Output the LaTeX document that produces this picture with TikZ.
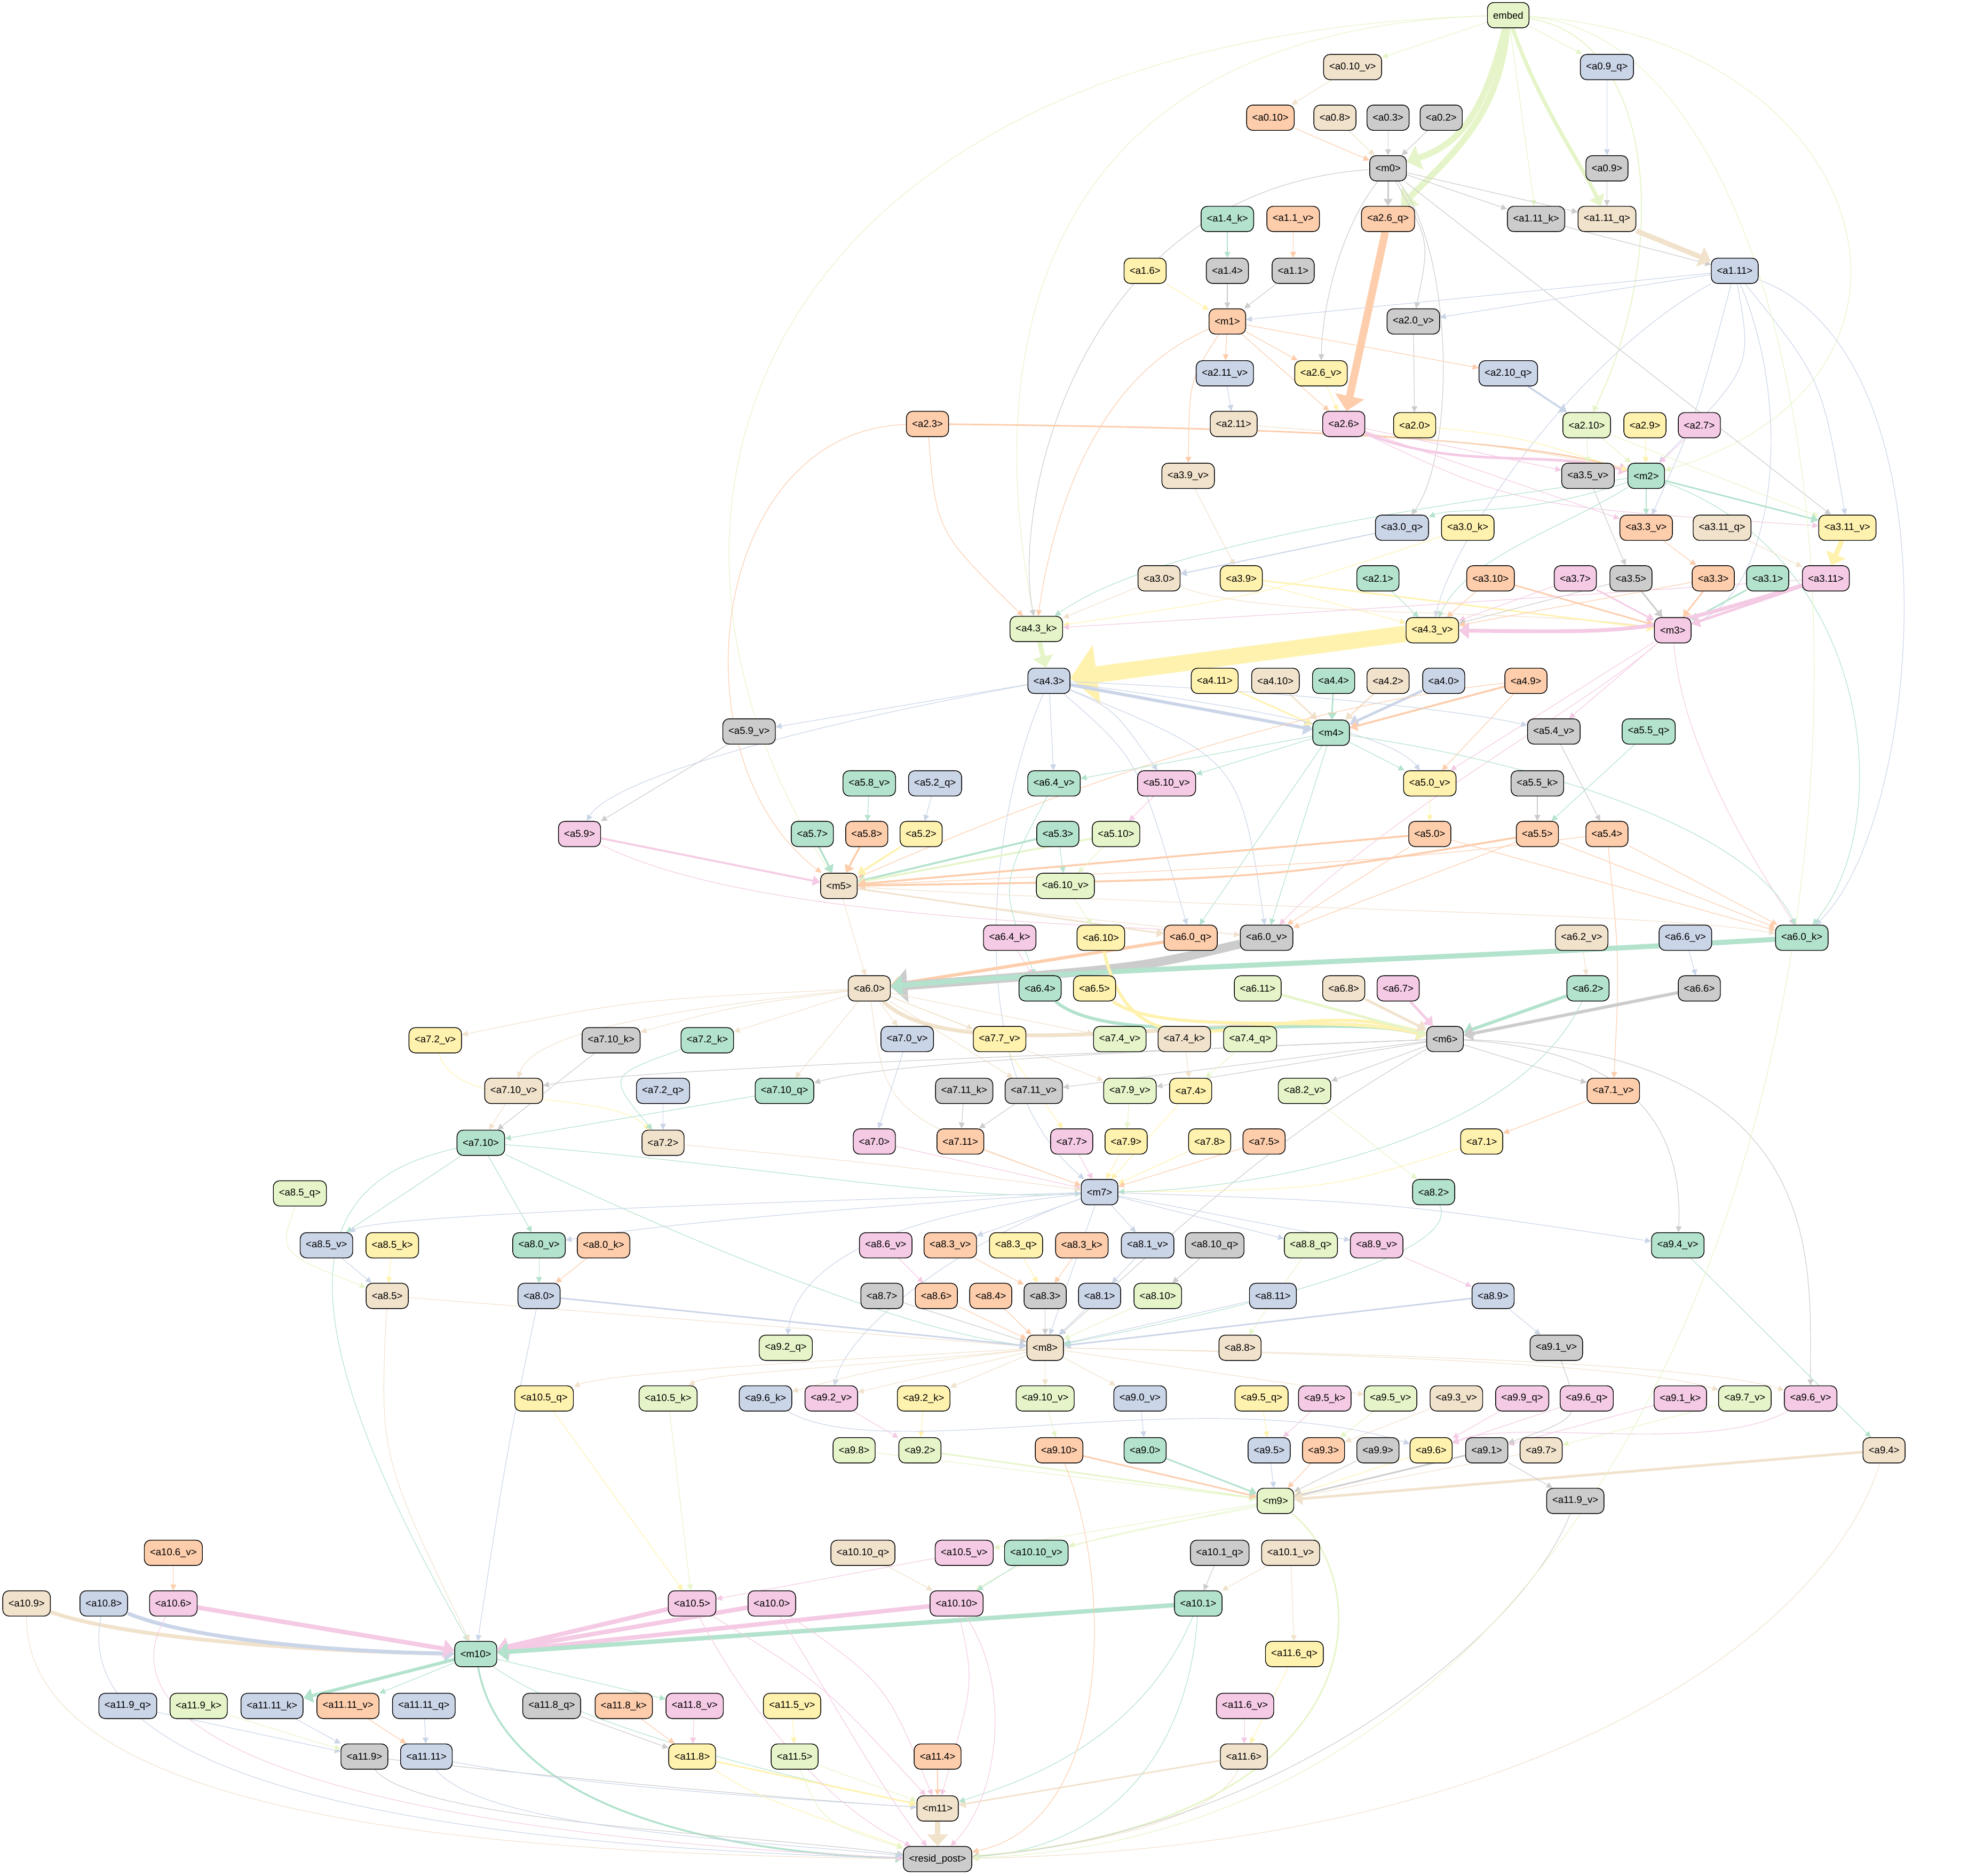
\documentclass[tikz,border=0pt]{standalone}
\usepackage{fontspec}
\setmainfont{Liberation Sans}
\usetikzlibrary{arrows.meta}
\definecolor{cG}{HTML}{B3E2CD}
\definecolor{cO}{HTML}{FDCDAC}
\definecolor{cB}{HTML}{CBD5E8}
\definecolor{cP}{HTML}{F4CAE4}
\definecolor{cL}{HTML}{E6F5C9}
\definecolor{cY}{HTML}{FFF2AE}
\definecolor{cE}{HTML}{F1E2CC}
\definecolor{cX}{HTML}{CCCCCC}
\pgfdeclarelayer{bg}
\pgfsetlayers{bg,main}
\tikzset{
  box/.style={draw=black,line width=0.6pt,rounded corners=5pt,minimum height=20pt,
    inner xsep=4.5pt,inner ysep=0pt,font=\fontsize{7.8}{9}\selectfont},
  nG/.style={box,fill=cG}, nO/.style={box,fill=cO}, nB/.style={box,fill=cB},
  nP/.style={box,fill=cP}, nL/.style={box,fill=cL}, nY/.style={box,fill=cY},
  nE/.style={box,fill=cE}, nX/.style={box,fill=cX},
  link/.style={line width=#1,-{Triangle[length=4pt 1.3,width=3pt 3.3]}},
  link/.default=0.5pt
}
\begin{document}
\begin{tikzpicture}[x=1pt,y=-1pt]
  \useasboundingbox (0,0) rectangle (1568,1482);
  % layer 0
  \node[nL] (embed) at (1192,12) {embed};
  \node[nE] (a0-10v) at (1069,53) {<a0.10\_v>};
  \node[nB] (a0-9q) at (1270,53) {<a0.9\_q>};
  \node[nO] (a0-10) at (1004,93) {<a0.10>};
  \node[nE] (a0-8) at (1055,93) {<a0.8>};
  \node[nX] (a0-3) at (1097,93) {<a0.3>};
  \node[nX] (a0-2) at (1139,93) {<a0.2>};
  \node[nX] (m0) at (1097,133) {<m0>};
  \node[nX] (a0-9) at (1270,133) {<a0.9>};
  % layer 1
  \node[nG] (a1-4k) at (970,173) {<a1.4\_k>};
  \node[nO] (a1-1v) at (1022,173) {<a1.1\_v>};
  \node[nO] (a2-6q) at (1097,173) {<a2.6\_q>};
  \node[nX] (a1-11k) at (1214,173) {<a1.11\_k>};
  \node[nE] (a1-11q) at (1270,173) {<a1.11\_q>};
  \node[nY] (a1-6) at (905,214) {<a1.6>};
  \node[nX] (a1-4) at (970,214) {<a1.4>};
  \node[nX] (a1-1) at (1022,214) {<a1.1>};
  \node[nB] (a1-11) at (1371,214) {<a1.11>};
  \node[nO] (m1) at (970,254) {<m1>};
  \node[nX] (a2-0v) at (1117,254) {<a2.0\_v>};
  % layer 2
  \node[nB] (a2-11v) at (968,295) {<a2.11\_v>};
  \node[nY] (a2-6v) at (1044,295) {<a2.6\_v>};
  \node[nB] (a2-10q) at (1192,295) {<a2.10\_q>};
  \node[nO] (a2-3) at (733,335) {<a2.3>};
  \node[nE] (a2-11) at (975,335) {<a2.11>};
  \node[nP] (a2-6) at (1062,335) {<a2.6>};
  \node[nY] (a2-0) at (1118,336) {<a2.0>};
  \node[nL] (a2-10) at (1254,336) {<a2.10>};
  \node[nY] (a2-9) at (1300,336) {<a2.9>};
  \node[nP] (a2-7) at (1343,336) {<a2.7>};
  \node[nE] (a3-9v) at (939,376) {<a3.9\_v>};
  \node[nX] (a3-5v) at (1255,376) {<a3.5\_v>};
  \node[nG] (m2) at (1301,376) {<m2>};
  % layer 3
  \node[nB] (a3-0q) at (1108,417) {<a3.0\_q>};
  \node[nY] (a3-0k) at (1160,417) {<a3.0\_k>};
  \node[nO] (a3-3v) at (1301,417) {<a3.3\_v>};
  \node[nE] (a3-11q) at (1361,417) {<a3.11\_q>};
  \node[nY] (a3-11v) at (1460,417) {<a3.11\_v>};
  \node[nE] (a3-0) at (916,457) {<a3.0>};
  \node[nY] (a3-9) at (981,457) {<a3.9>};
  \node[nG] (a2-1) at (1089,457) {<a2.1>};
  \node[nO] (a3-10) at (1178,457) {<a3.10>};
  \node[nP] (a3-7) at (1245,457) {<a3.7>};
  \node[nX] (a3-5) at (1289,457) {<a3.5>};
  \node[nO] (a3-3) at (1354,457) {<a3.3>};
  \node[nG] (a3-1) at (1397,457) {<a3.1>};
  \node[nP] (a3-11) at (1443,457) {<a3.11>};
  \node[nL] (a4-3k) at (819,497) {<a4.3\_k>};
  \node[nY] (a4-3v) at (1132,498) {<a4.3\_v>};
  \node[nP] (m3) at (1322,498) {<m3>};
  % layer 4
  \node[nB] (a4-3) at (829,538) {<a4.3>};
  \node[nY] (a4-11) at (960,538) {<a4.11>};
  \node[nE] (a4-10) at (1008,538) {<a4.10>};
  \node[nG] (a4-4) at (1054,538) {<a4.4>};
  \node[nE] (a4-2) at (1097,538) {<a4.2>};
  \node[nB] (a4-0) at (1141,538) {<a4.0>};
  \node[nO] (a4-9) at (1206,538) {<a4.9>};
  \node[nX] (a5-9v) at (592,578) {<a5.9\_v>};
  \node[nG] (m4) at (1052,579) {<m4>};
  \node[nX] (a5-4v) at (1228,578) {<a5.4\_v>};
  \node[nG] (a5-5q) at (1303,578) {<a5.5\_q>};
  % layer 5
  \node[nG] (a5-8v) at (687,619) {<a5.8\_v>};
  \node[nB] (a5-2q) at (739,619) {<a5.2\_q>};
  \node[nG] (a6-4v) at (833,619) {<a6.4\_v>};
  \node[nP] (a5-10v) at (922,619) {<a5.10\_v>};
  \node[nY] (a5-0v) at (1130,619) {<a5.0\_v>};
  \node[nX] (a5-5k) at (1215,619) {<a5.5\_k>};
  \node[nP] (a5-9) at (458,659) {<a5.9>};
  \node[nG] (a5-7) at (642,659) {<a5.7>};
  \node[nO] (a5-8) at (685,659) {<a5.8>};
  \node[nY] (a5-2) at (728,659) {<a5.2>};
  \node[nG] (a5-3) at (836,659) {<a5.3>};
  \node[nL] (a5-10) at (882,659) {<a5.10>};
  \node[nO] (a5-0) at (1130,659) {<a5.0>};
  \node[nO] (a5-5) at (1215,659) {<a5.5>};
  \node[nO] (a5-4) at (1270,659) {<a5.4>};
  \node[nE] (m5) at (663,700) {<m5>};
  \node[nL] (a6-10v) at (842,700) {<a6.10\_v>};
  % layer 6
  \node[nP] (a6-4k) at (798,741) {<a6.4\_k>};
  \node[nY] (a6-10) at (870,741) {<a6.10>};
  \node[nO] (a6-0q) at (941,741) {<a6.0\_q>};
  \node[nX] (a6-0v) at (1001,741) {<a6.0\_v>};
  \node[nE] (a6-2v) at (1250,741) {<a6.2\_v>};
  \node[nB] (a6-6v) at (1332,741) {<a6.6\_v>};
  \node[nG] (a6-0k) at (1424,741) {<a6.0\_k>};
  \node[nE] (a6-0) at (687,781) {<a6.0>};
  \node[nG] (a6-4) at (822,781) {<a6.4>};
  \node[nY] (a6-5) at (865,781) {<a6.5>};
  \node[nL] (a6-11) at (994,781) {<a6.11>};
  \node[nE] (a6-8) at (1062,781) {<a6.8>};
  \node[nP] (a6-7) at (1105,781) {<a6.7>};
  \node[nG] (a6-2) at (1255,781) {<a6.2>};
  \node[nX] (a6-6) at (1343,781) {<a6.6>};
  \node[nY] (a7-2v) at (344,822) {<a7.2\_v>};
  \node[nX] (a7-10k) at (483,822) {<a7.10\_k>};
  \node[nG] (a7-2k) at (559,822) {<a7.2\_k>};
  \node[nB] (a7-0v) at (717,821) {<a7.0\_v>};
  \node[nY] (a7-7v) at (790,821) {<a7.7\_v>};
  \node[nL] (a7-4v) at (885,821) {<a7.4\_v>};
  \node[nE] (a7-4k) at (936,821) {<a7.4\_k>};
  \node[nL] (a7-4q) at (988,821) {<a7.4\_q>};
  \node[nX] (m6) at (1142,821) {<m6>};
  % layer 7
  \node[nE] (a7-10v) at (406,862) {<a7.10\_v>};
  \node[nB] (a7-2q) at (524,862) {<a7.2\_q>};
  \node[nG] (a7-10q) at (620,862) {<a7.10\_q>};
  \node[nX] (a7-11k) at (762,862) {<a7.11\_k>};
  \node[nX] (a7-11v) at (817,862) {<a7.11\_v>};
  \node[nL] (a7-9v) at (893,862) {<a7.9\_v>};
  \node[nY] (a7-4) at (941,862) {<a7.4>};
  \node[nL] (a8-2v) at (1031,862) {<a8.2\_v>};
  \node[nO] (a7-1v) at (1275,862) {<a7.1\_v>};
  \node[nG] (a7-10) at (380,903) {<a7.10>};
  \node[nE] (a7-2) at (524,903) {<a7.2>};
  \node[nP] (a7-0) at (691,902) {<a7.0>};
  \node[nO] (a7-11) at (759,902) {<a7.11>};
  \node[nP] (a7-7) at (847,902) {<a7.7>};
  \node[nY] (a7-9) at (890,902) {<a7.9>};
  \node[nY] (a7-8) at (956,902) {<a7.8>};
  \node[nO] (a7-5) at (999,902) {<a7.5>};
  \node[nY] (a7-1) at (1171,902) {<a7.1>};
  \node[nL] (a8-5q) at (237,943) {<a8.5\_q>};
  \node[nB] (m7) at (869,942) {<m7>};
  \node[nG] (a8-2) at (1133,942) {<a8.2>};
  % layer 8
  \node[nB] (a8-5v) at (258,984) {<a8.5\_v>};
  \node[nY] (a8-5k) at (310,984) {<a8.5\_k>};
  \node[nG] (a8-0v) at (426,984) {<a8.0\_v>};
  \node[nO] (a8-0k) at (477,984) {<a8.0\_k>};
  \node[nP] (a8-6v) at (700,984) {<a8.6\_v>};
  \node[nO] (a8-3v) at (751,984) {<a8.3\_v>};
  \node[nY] (a8-3q) at (803,984) {<a8.3\_q>};
  \node[nO] (a8-3k) at (855,984) {<a8.3\_k>};
  \node[nB] (a8-1v) at (907,984) {<a8.1\_v>};
  \node[nX] (a8-10q) at (960,984) {<a8.10\_q>};
  \node[nL] (a8-8q) at (1036,984) {<a8.8\_q>};
  \node[nP] (a8-9v) at (1088,984) {<a8.9\_v>};
  \node[nG] (a9-4v) at (1326,984) {<a9.4\_v>};
  \node[nE] (a8-5) at (306,1024) {<a8.5>};
  \node[nB] (a8-0) at (426,1024) {<a8.0>};
  \node[nX] (a8-7) at (697,1024) {<a8.7>};
  \node[nO] (a8-6) at (740,1024) {<a8.6>};
  \node[nO] (a8-4) at (783,1024) {<a8.4>};
  \node[nX] (a8-3) at (826,1024) {<a8.3>};
  \node[nB] (a8-1) at (869,1024) {<a8.1>};
  \node[nL] (a8-10) at (915,1024) {<a8.10>};
  \node[nB] (a8-11) at (1006,1024) {<a8.11>};
  \node[nB] (a8-9) at (1180,1024) {<a8.9>};
  \node[nL] (a9-2q) at (621,1065) {<a9.2\_q>};
  \node[nE] (m8) at (826,1065) {<m8>};
  \node[nE] (a8-8) at (980,1065) {<a8.8>};
  \node[nX] (a9-1v) at (1230,1065) {<a9.1\_v>};
  % layer 9
  \node[nY] (a10-5q) at (430,1105) {<a10.5\_q>};
  \node[nL] (a10-5k) at (528,1105) {<a10.5\_k>};
  \node[nB] (a9-6k) at (605,1105) {<a9.6\_k>};
  \node[nP] (a9-2v) at (657,1105) {<a9.2\_v>};
  \node[nY] (a9-2k) at (730,1105) {<a9.2\_k>};
  \node[nL] (a9-10v) at (826,1105) {<a9.10\_v>};
  \node[nB] (a9-0v) at (901,1105) {<a9.0\_v>};
  \node[nY] (a9-5q) at (997,1105) {<a9.5\_q>};
  \node[nP] (a9-5k) at (1047,1105) {<a9.5\_k>};
  \node[nL] (a9-5v) at (1099,1105) {<a9.5\_v>};
  \node[nE] (a9-3v) at (1151,1105) {<a9.3\_v>};
  \node[nP] (a9-9q) at (1203,1105) {<a9.9\_q>};
  \node[nP] (a9-6q) at (1254,1105) {<a9.6\_q>};
  \node[nP] (a9-1k) at (1328,1105) {<a9.1\_k>};
  \node[nL] (a9-7v) at (1379,1105) {<a9.7\_v>};
  \node[nP] (a9-6v) at (1431,1105) {<a9.6\_v>};
  \node[nL] (a9-8) at (675,1146) {<a9.8>};
  \node[nL] (a9-2) at (727,1146) {<a9.2>};
  \node[nO] (a9-10) at (837,1146) {<a9.10>};
  \node[nG] (a9-0) at (905,1146) {<a9.0>};
  \node[nB] (a9-5) at (1003,1146) {<a9.5>};
  \node[nO] (a9-3) at (1046,1146) {<a9.3>};
  \node[nX] (a9-9) at (1089,1146) {<a9.9>};
  \node[nY] (a9-6) at (1131,1146) {<a9.6>};
  \node[nX] (a9-1) at (1175,1146) {<a9.1>};
  \node[nE] (a9-7) at (1218,1146) {<a9.7>};
  \node[nE] (a9-4) at (1489,1146) {<a9.4>};
  \node[nL] (m9) at (1008,1186) {<m9>};
  \node[nX] (a11-9v) at (1245,1186) {<a11.9\_v>};
  % layer 10
  \node[nO] (a10-6v) at (137,1227) {<a10.6\_v>};
  \node[nE] (a10-10q) at (682,1227) {<a10.10\_q>};
  \node[nP] (a10-5v) at (762,1227) {<a10.5\_v>};
  \node[nG] (a10-10v) at (819,1227) {<a10.10\_v>};
  \node[nX] (a10-1q) at (964,1227) {<a10.1\_q>};
  \node[nE] (a10-1v) at (1020,1227) {<a10.1\_v>};
  \node[nE] (a10-9) at (21,1267) {<a10.9>};
  \node[nB] (a10-8) at (82,1267) {<a10.8>};
  \node[nP] (a10-6) at (137,1267) {<a10.6>};
  \node[nP] (a10-5) at (547,1267) {<a10.5>};
  \node[nP] (a10-0) at (610,1267) {<a10.0>};
  \node[nP] (a10-10) at (756,1267) {<a10.10>};
  \node[nG] (a10-1) at (947,1267) {<a10.1>};
  \node[nG] (m10) at (376,1307) {<m10>};
  \node[nY] (a11-6q) at (1023,1307) {<a11.6\_q>};
  % layer 11
  \node[nB] (a11-9q) at (101,1348) {<a11.9\_q>};
  \node[nL] (a11-9k) at (157,1348) {<a11.9\_k>};
  \node[nB] (a11-11k) at (215,1348) {<a11.11\_k>};
  \node[nO] (a11-11v) at (275,1348) {<a11.11\_v>};
  \node[nB] (a11-11q) at (335,1348) {<a11.11\_q>};
  \node[nX] (a11-8q) at (436,1348) {<a11.8\_q>};
  \node[nO] (a11-8k) at (493,1348) {<a11.8\_k>};
  \node[nP] (a11-8v) at (549,1348) {<a11.8\_v>};
  \node[nY] (a11-5v) at (626,1348) {<a11.5\_v>};
  \node[nP] (a11-6v) at (984,1348) {<a11.6\_v>};
  \node[nX] (a11-9) at (288,1388) {<a11.9>};
  \node[nB] (a11-11) at (337,1388) {<a11.11>};
  \node[nY] (a11-8) at (547,1388) {<a11.8>};
  \node[nL] (a11-5) at (628,1388) {<a11.5>};
  \node[nO] (a11-4) at (741,1388) {<a11.4>};
  \node[nE] (a11-6) at (983,1388) {<a11.6>};
  \node[nE] (m11) at (741,1429) {<m11>};
  \node[nX] (resid) at (741,1469) {<resid\_post>};

  \begin{pgfonlayer}{bg}
  % embed and layer 0
  \draw[link,cL] (embed) -- (a0-10v);
  \draw[link,cL] (embed) -- (a0-9q);
  \draw[link,cL] (embed) -- (a1-11k);
  \draw[link=5pt,cL] (embed) .. controls (1172,95) and (1150,115) .. (m0);
  \draw[link=5pt,cL] (embed) .. controls (1185,90) and (1150,120) .. (a2-6q);
  \draw[link=3pt,cL] (embed) .. controls (1215,80) and (1250,130) .. (a1-11q);
  \draw[link=0.8pt,cL] (embed) .. controls (1310,30) and (1320,200) .. (a2-10);
  \draw[link,cL] (embed) .. controls (1480,30) and (1560,300) .. (m2);
  \draw[link,cL] (embed) .. controls (800,25) and (780,300) .. (a4-3k);
  \draw[link,cL] (embed) .. controls (600,30) and (470,400) .. (m5);
  \draw[link,cE] (a0-10v) -- (a0-10);
  \draw[link,cO] (a0-10) -- (m0);
  \draw[link,cE] (a0-8) -- (m0);
  \draw[link,cX] (a0-3) -- (m0);
  \draw[link,cX] (a0-2) -- (m0);
  \draw[link,cB] (a0-9q) -- (a0-9);
  \draw[link,cX] (a0-9) -- (a1-11q);
  \draw[link=1.2pt,cX] (m0) -- (a2-6q);
  \draw[link,cX] (m0) -- (a1-11k);
  \draw[link,cX] (m0) -- (a1-11q);
  \draw[link,cX] (a1-11k) -- (a1-11);
  \draw[link,cX] (m0) .. controls (1130,190) .. (a2-0v);
  \draw[link,cX] (m0) .. controls (1060,180) and (1045,240) .. (a2-6v);
  \draw[link,cX] (m0) .. controls (1150,200) and (1150,360) .. (a3-0q);
  \draw[link,cX] (m0) -- (a3-11v);
  \draw[link,cX] (m0) .. controls (850,150) and (800,400) .. (a4-3k);
  % layer 1
  \draw[link,cG] (a1-4k) -- (a1-4);
  \draw[link,cO] (a1-1v) -- (a1-1);
  \draw[link,cX] (a1-4) -- (m1);
  \draw[link,cX] (a1-1) -- (m1);
  \draw[link,cY] (a1-6) -- (m1);
  \draw[link,cB] (a1-11) -- (m1);
  \draw[link,cB] (a1-11) -- (a2-0v);
  \draw[link=4pt,cE] (a1-11q) -- (a1-11);
  \draw[link,cB] (a1-11) .. controls (1385,290) .. (m2);
  \draw[link,cB] (a1-11) .. controls (1440,300) .. (a3-11v);
  \draw[link,cB] (a1-11) .. controls (1340,330) .. (a3-3v);
  \draw[link,cB] (a1-11) .. controls (1250,280) and (1150,420) .. (a4-3v);
  \draw[link,cB] (a1-11) .. controls (1420,330) and (1400,470) .. (m3);
  \draw[link,cB] (a1-11) .. controls (1550,280) and (1520,650) .. (a6-0k);
  \draw[link,cO] (m1) -- (a2-11v);
  \draw[link,cO] (m1) -- (a2-6v);
  \draw[link,cO] (m1) -- (a2-10q);
  \draw[link,cO] (m1) -- (a2-6);
  \draw[link,cO] (m1) .. controls (940,300) .. (a3-9v);
  \draw[link,cO] (m1) .. controls (860,300) and (830,420) .. (a4-3k);
  % layer 2
  \draw[link,cB] (a2-11v) -- (a2-11);
  \draw[link=6pt,cO] (a2-6q) -- (a2-6);
  \draw[link,cY] (a2-6v) -- (a2-6);
  \draw[link,cX] (a2-0v) -- (a2-0);
  \draw[link=1.5pt,cB] (a2-10q) -- (a2-10);
  \draw[link=1.2pt,cO] (a2-3) .. controls (1000,338) and (1200,345) .. (m2);
  \draw[link,cE] (a2-11) .. controls (1100,345) and (1200,350) .. (m2);
  \draw[link=2pt,cP] (a2-6) .. controls (1150,372) and (1220,355) .. (m2);
  \draw[link,cY] (a2-0) .. controls (1200,345) .. (m2);
  \draw[link,cL] (a2-10) -- (m2);
  \draw[link,cY] (a2-9) -- (m2);
  \draw[link,cP] (a2-7) -- (m2);
  \draw[link,cL] (a2-10) -- (a3-5v);
  \draw[link,cL] (a2-10) -- (a3-11v);
  \draw[link,cP] (a2-6) -- (a3-5v);
  \draw[link,cP] (a2-6) .. controls (1200,400) .. (a3-11v);
  \draw[link,cP] (a2-6) -- (a3-3v);
  \draw[link,cO] (a2-3) .. controls (560,340) and (530,600) .. (m5);
  \draw[link,cO] (a2-3) .. controls (740,420) .. (a4-3k);
  \draw[link,cE] (a3-9v) -- (a3-9);
  \draw[link,cG] (m2) -- (a3-3v);
  \draw[link=1.2pt,cG] (m2) -- (a3-11v);
  \draw[link,cG] (m2) .. controls (1200,410) and (1150,400) .. (a3-0q);
  \draw[link,cG] (m2) .. controls (1230,420) and (1160,440) .. (a4-3v);
  \draw[link,cG] (m2) .. controls (1050,410) and (900,440) .. (a4-3k);
  \draw[link,cG] (m2) .. controls (1480,440) and (1500,650) .. (a6-0k);
  % layer 3
  \draw[link,cX] (a3-5v) -- (a3-5);
  \draw[link,cO] (a3-3v) -- (a3-3);
  \draw[link,cE] (a3-11q) -- (a3-11);
  \draw[link=4pt,cY] (a3-11v) -- (a3-11);
  \draw[link=0.8pt,cB] (a3-0q) -- (a3-0);
  \draw[link,cY] (a3-0k) .. controls (1000,470) .. (a4-3k);
  \draw[link,cE] (a3-0) .. controls (1000,490) and (1200,480) .. (m3);
  \draw[link,cE] (a3-0) -- (a4-3k);
  \draw[link=1.2pt,cY] (a3-9) .. controls (1100,470) and (1250,490) .. (m3);
  \draw[link,cY] (a3-9) -- (a4-3v);
  \draw[link,cG] (a2-1) -- (a4-3v);
  \draw[link,cO] (a3-10) -- (a4-3v);
  \draw[link=1.2pt,cO] (a3-10) -- (m3);
  \draw[link,cP] (a3-7) -- (a4-3v);
  \draw[link=1.2pt,cP] (a3-7) -- (m3);
  \draw[link,cX] (a3-5) -- (a4-3v);
  \draw[link=1.2pt,cX] (a3-5) -- (m3);
  \draw[link,cO] (a3-3) -- (a4-3v);
  \draw[link=1.2pt,cO] (a3-3) -- (m3);
  \draw[link=1.2pt,cG] (a3-1) -- (m3);
  \draw[link=3pt,cP] (a3-11) .. controls (1300,500) .. (a4-3v);
  \draw[link=2pt,cP] (a3-11) -- (m3);
  \draw[link,cP] (a3-11) .. controls (1100,480) .. (a4-3k);
  % layer 4
  \draw[link=13pt,cY] (a4-3v) -- (a4-3);
  \draw[link=4pt,cL] (a4-3k) -- (a4-3);
  \draw[link=2.5pt,cB] (a4-3) -- (m4);
  \draw[link=1.2pt,cY] (a4-11) -- (m4);
  \draw[link=1.2pt,cE] (a4-10) -- (m4);
  \draw[link=1.2pt,cG] (a4-4) -- (m4);
  \draw[link=1.2pt,cE] (a4-2) -- (m4);
  \draw[link=2pt,cB] (a4-0) -- (m4);
  \draw[link=1.5pt,cO] (a4-9) -- (m4);
  \draw[link,cO] (a4-9) -- (a5-0v);
  \draw[link,cO] (a4-9) .. controls (1000,560) and (800,640) .. (m5);
  \draw[link,cP] (m3) -- (a5-4v);
  \draw[link,cP] (m3) -- (a5-0v);
  \draw[link,cP] (m3) .. controls (1250,560) and (1100,640) .. (a6-0v);
  \draw[link,cP] (m3) .. controls (1330,600) and (1400,700) .. (a6-0k);
  \draw[link,cB] (a4-3) -- (a5-9v);
  \draw[link,cB] (a4-3) -- (a6-4v);
  \draw[link,cB] (a4-3) .. controls (880,560) .. (a5-10v);
  \draw[link,cB] (a4-3) .. controls (1000,560) and (1100,580) .. (a5-0v);
  \draw[link,cB] (a4-3) .. controls (1000,545) and (1150,560) .. (a5-4v);
  \draw[link,cB] (a4-3) .. controls (900,600) .. (a6-0q);
  \draw[link,cB] (a4-3) .. controls (980,600) .. (a6-0v);
  \draw[link,cB] (a4-3) .. controls (600,580) and (480,620) .. (a5-9);
  \draw[link,cB] (a4-3) .. controls (780,650) and (760,850) .. (m7);
  \draw[link,cG] (m4) -- (a6-4v);
  \draw[link,cG] (m4) -- (a5-10v);
  \draw[link,cG] (m4) -- (a5-0v);
  \draw[link,cG] (m4) -- (a6-0q);
  \draw[link,cG] (m4) -- (a6-0v);
  \draw[link,cG] (m4) .. controls (1200,600) and (1380,650) .. (a6-0k);
  % layer 5
  \draw[link,cX] (a5-9v) -- (a5-9);
  \draw[link,cG] (a5-8v) -- (a5-8);
  \draw[link,cB] (a5-2q) -- (a5-2);
  \draw[link,cP] (a5-10v) -- (a5-10);
  \draw[link,cY] (a5-0v) -- (a5-0);
  \draw[link,cX] (a5-5k) -- (a5-5);
  \draw[link,cG] (a5-5q) -- (a5-5);
  \draw[link,cX] (a5-4v) -- (a5-4);
  \draw[link=1.5pt,cP] (a5-9) -- (m5);
  \draw[link=1.5pt,cG] (a5-7) -- (m5);
  \draw[link=1.5pt,cO] (a5-8) -- (m5);
  \draw[link=1.5pt,cY] (a5-2) -- (m5);
  \draw[link=1.5pt,cG] (a5-3) -- (m5);
  \draw[link=1.5pt,cL] (a5-10) -- (m5);
  \draw[link=1.5pt,cO] (a5-0) -- (m5);
  \draw[link=1.5pt,cO] (a5-5) .. controls (1000,695) .. (m5);
  \draw[link,cO] (a5-4) .. controls (1100,680) .. (m5);
  \draw[link,cG] (a5-3) -- (a6-10v);
  \draw[link,cL] (a5-10) -- (a6-10v);
  \draw[link,cP] (a5-9) .. controls (600,730) and (900,730) .. (a6-0v);
  \draw[link,cO] (a5-0) -- (a6-0v);
  \draw[link,cO] (a5-0) -- (a6-0k);
  \draw[link,cO] (a5-5) -- (a6-0v);
  \draw[link,cO] (a5-5) -- (a6-0k);
  \draw[link,cO] (a5-4) -- (a6-0k);
  \draw[link,cO] (a5-4) .. controls (1280,760) .. (a7-1v);
  % layer 6
  \draw[link=1.2pt,cE] (m5) -- (a6-0q);
  \draw[link,cE] (m5) .. controls (800,720) .. (a6-0v);
  \draw[link,cE] (m5) .. controls (1000,720) and (1300,720) .. (a6-0k);
  \draw[link,cE] (m5) -- (a6-0);
  \draw[link,cL] (a6-10v) -- (a6-10);
  \draw[link,cG] (a6-4v) .. controls (790,700) .. (a6-4);
  \draw[link,cP] (a6-4k) -- (a6-4);
  \draw[link,cE] (a6-2v) -- (a6-2);
  \draw[link,cB] (a6-6v) -- (a6-6);
  \draw[link=2.5pt,cO] (a6-0q) -- (a6-0);
  \draw[link=7pt,cX] (a6-0v) .. controls (900,765) .. (a6-0);
  \draw[link=4pt,cG] (a6-0k) .. controls (1100,760) and (850,766) .. (a6-0);
  \draw[link=3pt,cE] (a6-0) .. controls (760,850) and (1000,790) .. (m6);
  \draw[link=2.5pt,cG] (a6-4) .. controls (880,830) and (1050,800) .. (m6);
  \draw[link=2.5pt,cY] (a6-5) .. controls (920,820) and (1050,800) .. (m6);
  \draw[link=2.5pt,cY] (a6-10) .. controls (900,870) and (1000,780) .. (m6);
  \draw[link=2pt,cL] (a6-11) -- (m6);
  \draw[link=2pt,cE] (a6-8) -- (m6);
  \draw[link=2pt,cP] (a6-7) -- (m6);
  \draw[link=2.5pt,cG] (a6-2) -- (m6);
  \draw[link=2.5pt,cX] (a6-6) -- (m6);
  \draw[link,cE] (a6-0) -- (a7-0v);
  \draw[link,cE] (a6-0) -- (a7-7v);
  \draw[link,cE] (a6-0) .. controls (780,800) .. (a7-4v);
  \draw[link,cE] (a6-0) .. controls (500,790) .. (a7-2v);
  \draw[link,cE] (a6-0) .. controls (580,795) .. (a7-10k);
  \draw[link,cE] (a6-0) -- (a7-2k);
  \draw[link,cE] (a6-0) .. controls (500,800) and (420,820) .. (a7-10v);
  \draw[link,cE] (a6-0) -- (a7-10q);
  \draw[link,cE] (a6-0) -- (a7-11v);
  \draw[link,cE] (a6-0) -- (a7-9v);
  \draw[link,cE] (a6-0) .. controls (700,880) .. (m7);
  \draw[link,cX] (m6) .. controls (900,830) and (700,840) .. (a7-10q);
  \draw[link,cX] (m6) .. controls (800,835) and (500,845) .. (a7-10v);
  \draw[link,cX] (m6) -- (a7-11v);
  \draw[link,cX] (m6) -- (a7-9v);
  \draw[link,cX] (m6) -- (a8-2v);
  \draw[link,cX] (m6) -- (a7-1v);
  \draw[link,cX] (m6) .. controls (1300,830) and (1330,900) .. (a9-4v);
  \draw[link,cX] (m6) .. controls (1450,830) and (1430,1000) .. (a9-6v);
  \draw[link,cX] (m6) .. controls (1000,900) and (900,1000) .. (m8);
  % layer 7
  \draw[link,cE] (a7-4k) -- (a7-4);
  \draw[link,cL] (a7-4q) -- (a7-4);
  \draw[link,cL] (a7-9v) -- (a7-9);
  \draw[link,cX] (a7-11k) -- (a7-11);
  \draw[link,cX] (a7-11v) -- (a7-11);
  \draw[link,cB] (a7-0v) -- (a7-0);
  \draw[link,cY] (a7-7v) -- (a7-7);
  \draw[link,cY] (a7-2v) .. controls (360,880) and (480,860) .. (a7-2);
  \draw[link,cB] (a7-2q) -- (a7-2);
  \draw[link,cG] (a7-2k) .. controls (480,850) .. (a7-2);
  \draw[link,cE] (a7-10v) -- (a7-10);
  \draw[link,cX] (a7-10k) -- (a7-10);
  \draw[link,cG] (a7-10q) -- (a7-10);
  \draw[link,cO] (a7-1v) -- (a7-1);
  \draw[link,cL] (a8-2v) -- (a8-2);
  \draw[link,cP] (a7-0) -- (m7);
  \draw[link,cO] (a7-11) -- (m7);
  \draw[link,cP] (a7-7) -- (m7);
  \draw[link,cY] (a7-9) -- (m7);
  \draw[link,cY] (a7-8) -- (m7);
  \draw[link,cO] (a7-5) -- (m7);
  \draw[link,cY] (a7-1) .. controls (1050,940) .. (m7);
  \draw[link,cE] (a7-2) .. controls (700,920) .. (m7);
  \draw[link,cG] (a7-10) .. controls (600,920) and (750,950) .. (m7);
  \draw[link,cY] (a7-4) -- (m7);
  \draw[link,cG] (a6-2) .. controls (1200,900) and (1000,940) .. (m7);
  \draw[link,cG] (a7-10) -- (a8-5v);
  \draw[link,cG] (a7-10) -- (a8-0v);
  \draw[link,cG] (a7-10) .. controls (260,930) and (200,1000) .. (m10);
  \draw[link,cG] (a7-10) .. controls (500,960) and (700,1050) .. (m8);
  \draw[link,cB] (m7) .. controls (600,950) and (300,960) .. (a8-5v);
  \draw[link,cB] (m7) .. controls (650,955) and (500,970) .. (a8-0v);
  \draw[link,cB] (m7) -- (a8-3v);
  \draw[link,cB] (m7) -- (a8-1v);
  \draw[link,cB] (m7) -- (a8-8q);
  \draw[link,cB] (m7) -- (a8-9v);
  \draw[link,cB] (m7) .. controls (1100,950) .. (a9-4v);
  \draw[link,cB] (m7) .. controls (700,960) and (630,1000) .. (a9-2q);
  \draw[link,cB] (m7) .. controls (760,980) and (670,1050) .. (a9-2v);
  \draw[link,cB] (m7) -- (m8);
  % layer 8
  \draw[link,cL] (a8-5q) .. controls (220,990) .. (a8-5);
  \draw[link,cB] (a8-5v) -- (a8-5);
  \draw[link,cY] (a8-5k) -- (a8-5);
  \draw[link,cG] (a8-0v) -- (a8-0);
  \draw[link,cO] (a8-0k) -- (a8-0);
  \draw[link,cP] (a8-6v) -- (a8-6);
  \draw[link,cO] (a8-3v) -- (a8-3);
  \draw[link,cY] (a8-3q) -- (a8-3);
  \draw[link,cO] (a8-3k) -- (a8-3);
  \draw[link,cB] (a8-1v) -- (a8-1);
  \draw[link,cX] (a8-10q) -- (a8-10);
  \draw[link,cL] (a8-8q) -- (a8-8);
  \draw[link,cP] (a8-9v) -- (a8-9);
  \draw[link,cG] (a9-4v) -- (a9-4);
  \draw[link,cE] (a8-5) -- (m8);
  \draw[link=1.2pt,cB] (a8-0) -- (m8);
  \draw[link,cX] (a8-7) -- (m8);
  \draw[link,cO] (a8-6) -- (m8);
  \draw[link,cO] (a8-4) -- (m8);
  \draw[link,cX] (a8-3) -- (m8);
  \draw[link,cB] (a8-1) -- (m8);
  \draw[link,cL] (a8-10) -- (m8);
  \draw[link,cB] (a8-11) -- (m8);
  \draw[link=1.2pt,cB] (a8-9) -- (m8);
  \draw[link,cG] (a8-2) .. controls (1160,1000) and (900,1050) .. (m8);
  \draw[link,cB] (a8-9) -- (a9-1v);
  \draw[link,cE] (a8-5) .. controls (300,1150) .. (m10);
  \draw[link,cB] (a8-0) .. controls (400,1150) .. (m10);
  % layer 9
  \draw[link,cE] (m8) -- (a9-2v);
  \draw[link,cE] (m8) .. controls (700,1080) .. (a9-6k);
  \draw[link,cE] (m8) -- (a9-2k);
  \draw[link,cE] (m8) -- (a9-10v);
  \draw[link,cE] (m8) -- (a9-0v);
  \draw[link,cE] (m8) -- (a9-5v);
  \draw[link,cE] (m8) .. controls (1100,1070) and (1300,1080) .. (a9-7v);
  \draw[link,cE] (m8) .. controls (1150,1070) and (1350,1080) .. (a9-6v);
  \draw[link,cE] (m8) .. controls (650,1075) and (480,1085) .. (a10-5q);
  \draw[link,cE] (m8) .. controls (680,1080) and (560,1085) .. (a10-5k);
  \draw[link,cP] (a9-2v) -- (a9-2);
  \draw[link,cY] (a9-2k) -- (a9-2);
  \draw[link,cL] (a9-10v) -- (a9-10);
  \draw[link,cB] (a9-0v) -- (a9-0);
  \draw[link,cY] (a9-5q) -- (a9-5);
  \draw[link,cP] (a9-5k) -- (a9-5);
  \draw[link,cL] (a9-5v) -- (a9-3);
  \draw[link,cE] (a9-3v) -- (a9-3);
  \draw[link,cP] (a9-9q) -- (a9-6);
  \draw[link,cP] (a9-6q) -- (a9-6);
  \draw[link,cP] (a9-1k) -- (a9-1);
  \draw[link,cL] (a9-7v) -- (a9-7);
  \draw[link,cP] (a9-6v) .. controls (1350,1150) and (1200,1120) .. (a9-6);
  \draw[link,cB] (a9-6k) .. controls (700,1160) and (950,1090) .. (a9-6);
  \draw[link,cX] (a9-1v) .. controls (1250,1120) .. (a9-1);
  \draw[link,cL] (a9-8) -- (m9);
  \draw[link=1.2pt,cL] (a9-2) -- (m9);
  \draw[link=1.2pt,cO] (a9-10) -- (m9);
  \draw[link=1.2pt,cG] (a9-0) -- (m9);
  \draw[link,cB] (a9-5) -- (m9);
  \draw[link,cO] (a9-3) -- (m9);
  \draw[link,cX] (a9-9) -- (m9);
  \draw[link,cY] (a9-6) -- (m9);
  \draw[link=1.2pt,cX] (a9-1) -- (m9);
  \draw[link,cE] (a9-7) -- (m9);
  \draw[link=2pt,cE] (a9-4) -- (m9);
  \draw[link,cX] (a9-1) -- (a11-9v);
  % layer 10
  \draw[link,cL] (m9) -- (a10-5v);
  \draw[link,cL] (m9) -- (a10-10v);
  \draw[link,cL] (m9) .. controls (960,1200) and (840,1210) .. (a10-10);
  \draw[link,cO] (a10-6v) -- (a10-6);
  \draw[link,cP] (a10-5v) -- (a10-5);
  \draw[link,cE] (a10-10q) -- (a10-10);
  \draw[link,cG] (a10-10v) -- (a10-10);
  \draw[link,cX] (a10-1q) -- (a10-1);
  \draw[link,cE] (a10-1v) -- (a10-1);
  \draw[link,cE] (a10-1v) -- (a11-6q);
  \draw[link,cY] (a10-5q) -- (a10-5);
  \draw[link,cL] (a10-5k) -- (a10-5);
  \draw[link=3pt,cE] (a10-9) .. controls (100,1295) and (250,1305) .. (m10);
  \draw[link=3pt,cB] (a10-8) .. controls (150,1295) and (260,1305) .. (m10);
  \draw[link=3.5pt,cP] (a10-6) -- (m10);
  \draw[link=3.5pt,cP] (a10-5) -- (m10);
  \draw[link=3.5pt,cP] (a10-0) -- (m10);
  \draw[link=3.5pt,cP] (a10-10) -- (m10);
  \draw[link=3.5pt,cG] (a10-1) -- (m10);
  % layer 11
  \draw[link=2.5pt,cG] (m10) -- (a11-11k);
  \draw[link,cG] (m10) -- (a11-11v);
  \draw[link,cG] (m10) -- (a11-8v);
  \draw[link,cG] (m10) .. controls (450,1360) and (600,1400) .. (m11);
  \draw[link=1.5pt,cG] (m10) .. controls (400,1440) and (600,1465) .. (resid);
  \draw[link,cB] (a11-9q) -- (a11-9);
  \draw[link,cL] (a11-9k) -- (a11-9);
  \draw[link,cB] (a11-11k) -- (a11-9);
  \draw[link,cO] (a11-11v) -- (a11-11);
  \draw[link,cB] (a11-11q) -- (a11-11);
  \draw[link,cX] (a11-8q) -- (a11-8);
  \draw[link,cO] (a11-8k) -- (a11-8);
  \draw[link,cP] (a11-8v) -- (a11-8);
  \draw[link,cY] (a11-5v) -- (a11-5);
  \draw[link,cP] (a11-6v) -- (a11-6);
  \draw[link,cY] (a11-6q) -- (a11-6);
  \draw[link,cX] (a11-9) .. controls (400,1400) and (600,1420) .. (m11);
  \draw[link,cB] (a11-11) .. controls (450,1410) and (600,1420) .. (m11);
  \draw[link=1.2pt,cY] (a11-8) -- (m11);
  \draw[link,cL] (a11-5) -- (m11);
  \draw[link,cO] (a11-4) -- (m11);
  \draw[link=1.2pt,cE] (a11-6) -- (m11);
  \draw[link,cG] (a10-1) .. controls (900,1380) and (800,1410) .. (m11);
  \draw[link,cP] (a10-10) .. controls (770,1330) .. (m11);
  \draw[link,cP] (a10-0) .. controls (700,1330) .. (m11);
  \draw[link,cP] (a10-5) .. controls (650,1330) .. (m11);
  \draw[link=4pt,cE] (m11) -- (resid);
  % into resid_post
  \draw[link,cE] (a10-9) .. controls (20,1440) and (400,1465) .. (resid);
  \draw[link,cB] (a10-8) .. controls (50,1420) and (400,1460) .. (resid);
  \draw[link,cP] (a10-6) .. controls (60,1400) and (400,1455) .. (resid);
  \draw[link,cX] (a11-9) .. controls (330,1440) and (600,1450) .. (resid);
  \draw[link,cB] (a11-11) .. controls (380,1445) and (600,1455) .. (resid);
  \draw[link,cY] (a11-8) .. controls (600,1420) .. (resid);
  \draw[link,cL] (a11-5) .. controls (650,1440) .. (resid);
  \draw[link,cP] (a10-5) .. controls (580,1330) and (640,1420) .. (resid);
  \draw[link,cP] (a10-0) .. controls (650,1330) and (700,1420) .. (resid);
  \draw[link,cP] (a10-10) .. controls (800,1330) and (790,1420) .. (resid);
  \draw[link,cG] (a10-1) .. controls (940,1380) and (880,1460) .. (resid);
  \draw[link,cE] (a11-6) .. controls (960,1440) and (850,1460) .. (resid);
  \draw[link=1.2pt,cL] (m9) .. controls (1090,1250) and (1090,1440) .. (resid);
  \draw[link,cO] (a9-10) .. controls (880,1250) and (880,1440) .. (resid);
  \draw[link,cX] (a11-9v) .. controls (1200,1300) and (1000,1450) .. (resid);
  \draw[link,cE] (a9-4) .. controls (1440,1300) and (1200,1460) .. (resid);
  \draw[link,cL] (embed) .. controls (1560,40) and (1560,1440) .. (resid);
  \end{pgfonlayer}
\end{tikzpicture}
\end{document}
